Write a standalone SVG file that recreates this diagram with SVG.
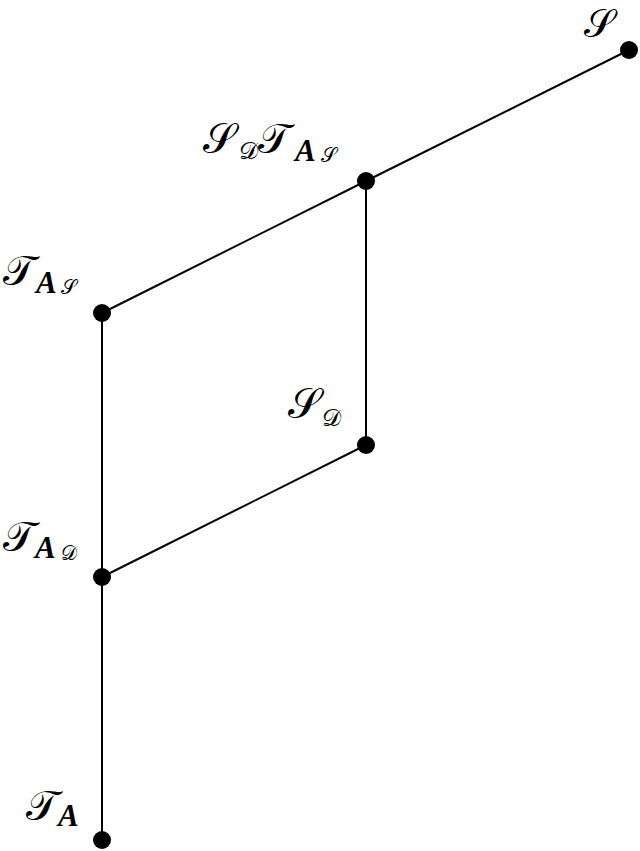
<svg xmlns="http://www.w3.org/2000/svg" width="640" height="851" viewBox="0 0 640 851">
<style>
.e{stroke:#000;stroke-width:2;fill:none}
.d{fill:#000}
.c{font-family:"DejaVu Serif","Noto Sans",serif;fill:#000}
.b{font-family:"Liberation Serif",serif;font-weight:bold;font-style:italic;fill:#000;font-size:31px}
.m{font-size:42px}
.s{font-size:24px}
.t{font-size:20px}
</style>
<rect width="640" height="851" fill="#fff"/>
<g id="connectors">
<line class="e" x1="629" y1="50" x2="366" y2="181"/>
<line class="e" x1="366" y1="181" x2="102" y2="313"/>
<line class="e" x1="366" y1="181" x2="366" y2="445"/>
<line class="e" x1="102" y1="313" x2="102" y2="577"/>
<line class="e" x1="366" y1="445" x2="102" y2="577"/>
<line class="e" x1="102" y1="577" x2="102" y2="840"/>
</g>
<g id="n-S"><circle class="d" cx="629" cy="50" r="9"/><text class="c" font-size="39" x="584" y="37">𝒮</text></g>
<g id="n-SDTAS"><circle class="d" cx="366" cy="181" r="9"/>
<text class="c m" x="203" y="153">𝒮</text><text class="c s" x="239" y="159">𝒟</text>
<text class="c m" x="258" y="153">𝒯</text><text class="b" x="295" y="161">A</text><text class="c t" x="321" y="162">𝒮</text></g>
<g id="n-TAS"><circle class="d" cx="102" cy="313" r="9"/>
<text class="c m" x="3" y="285">𝒯</text><text class="b" x="36" y="293">A</text><text class="c t" x="61" y="294">𝒮</text></g>
<g id="n-SD"><circle class="d" cx="366" cy="445" r="9"/>
<text class="c m" x="288" y="418">𝒮</text><text class="c s" x="322" y="426">𝒟</text></g>
<g id="n-TAD"><circle class="d" cx="102" cy="577" r="9"/>
<text class="c m" x="3" y="551">𝒯</text><text class="b" x="35" y="558">A</text><text class="c t" x="61" y="560">𝒟</text></g>
<g id="n-TA"><circle class="d" cx="102" cy="840" r="9"/>
<text class="c m" x="26" y="820">𝒯</text><text class="b" x="58" y="826">A</text></g>
</svg>
